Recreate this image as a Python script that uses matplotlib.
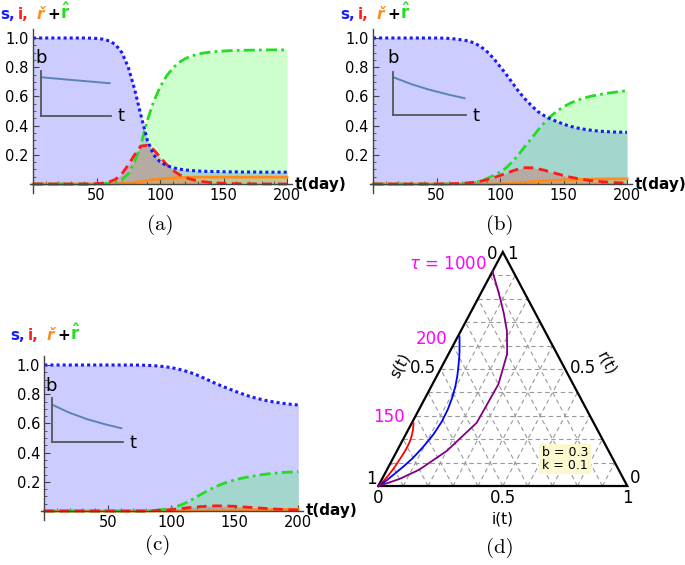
import matplotlib
matplotlib.use("Agg")
import matplotlib.pyplot as plt
import numpy as np
from matplotlib.ticker import FixedLocator

W, H = 685, 565

# --- data (t in days, step 5) ---
t_days = list(range(0, 205, 5))

# panel (a)
s_a = [1, 1, 1, 1, 1, 1, 1, 1, 1, .999, .997, .992, .98, .955, .9, .8, .65, .47, .3, .2,
       .152, .127, .112, .102, .096, .092, .089, .087, .086, .085, .084, .083, .083, .082,
       .082, .082, .081, .081, .081, .081, .081]
i_a = [0, 0, 0, 0, 0, 0, 0, 0, 0, .001, .0025, .006, .014, .032, .07, .13, .2, .26, .265,
       .235, .185, .135, .095, .065, .045, .031, .021, .015, .01, .007, .005, .0035, .0025,
       .0018, .0013, .001, .0007, .0005, .0004, .0003, .0002]
rc_a = [0, 0, 0, 0, 0, 0, 0, 0, 0, 0, 0, 0, 0, .001, .003, .006, .011, .017, .024, .03,
        .035, .039, .042, .044, .045, .046, .047, .047, .047, .047, .047, .047, .047, .047,
        .047, .047, .047, .047, .047, .047, .047]
g_a = [0, 0, 0, 0, 0, 0, 0, 0, 0, 0, .0005, .002, .006, .013, .03, .07, .15, .27, .435,
       .565, .663, .738, .793, .833, .859, .877, .89, .898, .904, .908, .911, .9135, .9145,
       .916, .9167, .917, .918, .9185, .9186, .9187, .9188]

# panel (b)
s_b = [1, 1, 1, 1, 1, 1, 1, 1, 1, 1, 1, .999, .997, .993, .987, .98, .965, .94, .905, .86,
       .805, .75, .69, .63, .58, .535, .495, .467, .445, .427, .41, .396, .385, .377, .37,
       .365, .361, .358, .356, .355, .354]
i_b = [0, 0, 0, 0, 0, 0, 0, 0, 0, 0, 0, .001, .002, .003, .005, .008, .013, .02, .03, .043,
       .058, .074, .09, .104, .112, .111, .104, .094, .082, .07, .058, .048, .039, .031,
       .025, .02, .016, .013, .01, .008, .006]
rc_b = [0, 0, 0, 0, 0, 0, 0, 0, 0, 0, 0, 0, 0, 0, 0, 0, 0, 0, 0, 0, .002, .004, .006,
        .009, .012, .015, .018, .021, .024, .026, .028, .03, .031, .032, .033, .034, .034,
        .035, .035, .035, .036]
g_b = [0, 0, 0, 0, 0, 0, 0, 0, 0, 0, 0, 0, 0, 0, .003, .006, .012, .022, .038, .058, .082,
       .112, .155, .205, .262, .315, .37, .42, .465, .5, .528, .552, .571, .586, .598, .607,
       .615, .622, .628, .634, .639]

# panel (c)
s_c = [1, 1, 1, 1, 1, 1, 1, 1, 1, 1, 1, 1, 1, 1, 1, .999, .998, .996, .993, .988, .982,
       .973, .962, .948, .932, .913, .893, .873, .855, .838, .821, .805, .79, .777, .766,
       .756, .748, .741, .735, .73, .726]
i_c = [0, 0, 0, 0, 0, 0, 0, 0, 0, 0, 0, 0, 0, 0, 0, 0, 0, .002, .004, .007, .01, .014,
       .019, .024, .028, .031, .034, .035, .035, .034, .032, .029, .026, .023, .02, .017,
       .014, .012, .01, .008, .007]
rc_c = [0, 0, 0, 0, 0, 0, 0, 0, 0, 0, 0, 0, 0, 0, 0, 0, 0, 0, 0, 0, 0, 0, 0, .001, .002,
        .0025, .003, .004, .005, .0055, .006, .007, .008, .0085, .009, .0095, .01, .0105,
        .011, .0115, .012]
g_c = [0, 0, 0, 0, 0, 0, 0, 0, 0, 0, 0, 0, 0, 0, 0, 0, 0, .003, .007, .012, .02, .033,
       .05, .072, .097, .122, .146, .167, .185, .2, .213, .224, .232, .24, .247, .253,
       .258, .262, .265, .267, .269]

# insets b(t), sampled at equal fractions of the inset width
inset_u = [0, 0.25, 0.5, 0.75, 0.98]
b_a = [0.86, 0.825, 0.79, 0.757, 0.725]
b_b = [0.87, 0.71, 0.58, 0.473, 0.385]
b_c = [0.86, 0.672, 0.525, 0.41, 0.32]

tau_labels = ['150', '200', r'$\tau$ = 1000']

C_S, C_I, C_RC, C_G = '#1a1aff', '#ff1a1a', '#ff8c1a', '#22dd22'

fig = plt.figure(figsize=(W / 100, H / 100), dpi=100)


def fx(x):
    return x / W


def fy(y):
    return 1 - y / H


def title_row(x0, yb):
    # "s, i, ř + r̂" built from pieces so each keeps its own colour
    fs = 11
    kw = dict(fontsize=fs, fontweight='bold', va='baseline')
    fig.text(fx(x0), fy(yb), 's,', color=C_S, **kw)
    fig.text(fx(x0 + 18), fy(yb), 'i,', color=C_I, **kw)
    fig.text(fx(x0 + 37), fy(yb), '\u0159', color=C_RC, fontstyle='italic', **kw)
    fig.text(fx(x0 + 47), fy(yb), '+', color='k', **kw)
    fig.text(fx(x0 + 60), fy(yb), r'$\mathbf{\hat{r}}$', color=C_G, fontsize=fs + 1,
             va='baseline')


def time_panel(x0, y0, s, i, rc, g, rx=1.27, ry=146):
    tmin, tmax = -2.5, 204
    vmin, vmax = -0.06, 1.06
    left, right = x0 + tmin * rx, x0 + tmax * rx
    top, bot = y0 - vmax * ry, y0 - vmin * ry
    ax = fig.add_axes([fx(left), fy(bot), (right - left) / W, (bot - top) / H])
    ax.set_xlim(tmin, tmax)
    ax.set_ylim(vmin, vmax)
    ax.patch.set_alpha(0)

    ax.fill_between(t_days, 0, s, color='blue', alpha=0.2, lw=0)
    ax.fill_between(t_days, 0, g, color=(0, 1, 0), alpha=0.2, lw=0)
    ax.fill_between(t_days, 0, i, color='red', alpha=0.2, lw=0)
    ax.fill_between(t_days, 0, rc, color='orange', alpha=0.25, lw=0)

    ax.plot(t_days, rc, color=C_RC, lw=2)
    ax.plot(t_days, g, color=C_G, lw=2, ls=(0, (4, 1.5, 1, 1.5)))
    ax.plot(t_days, i, color=C_I, lw=2, ls=(0, (3.5, 2)))
    ax.plot(t_days, s, color=C_S, lw=2.2, ls=(0, (1, 1)))

    for sp in ['top', 'right']:
        ax.spines[sp].set_visible(False)
    for sp in ['left', 'bottom']:
        ax.spines[sp].set_position(('data', 0))
        ax.spines[sp].set_color('#444444')
        ax.spines[sp].set_linewidth(1)
    ax.set_xticks([50, 100, 150, 200])
    ax.set_xticklabels(['50', '100', '150', '200'])
    ax.set_yticks([0.2, 0.4, 0.6, 0.8, 1.0])
    ax.set_yticklabels(['0.2', '0.4', '0.6', '0.8', '1.0'])
    ax.xaxis.set_minor_locator(FixedLocator([v for v in range(10, 201, 10) if v % 50]))
    ax.yaxis.set_minor_locator(FixedLocator([v / 100 for v in range(5, 101, 5) if v % 20]))
    ax.tick_params(which='major', direction='in', length=4, width=0.8, color='#444444',
                   labelsize=10.5, pad=3)
    ax.tick_params(which='minor', direction='in', length=2, width=0.6, color='#444444')
    ax.text(206, 0, 't(day)', fontsize=11, fontweight='bold', ha='left', va='center')
    return ax


def inset(xl, xr, yt, yb, vals, bpos, tpos):
    iax = fig.add_axes([fx(xl), fy(yb), (xr - xl) / W, (yb - yt) / H])
    iax.set_xlim(0, 1)
    iax.set_ylim(0, 1)
    iax.patch.set_alpha(0)
    iax.plot(inset_u, vals, color='#5b84b4', lw=1.4)
    for sp in ['top', 'right']:
        iax.spines[sp].set_visible(False)
    for sp in ['left', 'bottom']:
        iax.spines[sp].set_color('#555555')
        iax.spines[sp].set_linewidth(1.3)
    iax.set_xticks([])
    iax.set_yticks([])
    fig.text(fx(bpos[0]), fy(bpos[1]), 'b', fontsize=13, ha='center', va='center')
    fig.text(fx(tpos[0]), fy(tpos[1]), 't', fontsize=13, ha='center', va='center')


# (a)
time_panel(33, 184, s_a, i_a, rc_a, g_a)
inset(41, 111, 71, 115.5, b_a, (41.5, 58), (121.5, 116))
title_row(0, 19)

# (b)
time_panel(373, 184, s_b, i_b, rc_b, g_b)
inset(393, 466, 71.5, 115, b_b, (393.5, 58), (476, 116))
title_row(340, 19)

# (c)
time_panel(44.3, 511, s_c, i_c, rc_c, g_c)
inset(51.7, 122.7, 398.3, 442.3, b_c, (51.5, 386), (132.5, 443.5))
title_row(10, 340)

# (d) ternary plot
tx0, tx1, ty0, ty1 = 378.3, 627.3, 486, 252
tax = fig.add_axes([fx(tx0), fy(ty0), (tx1 - tx0) / W, (ty0 - ty1) / H])
tax.set_xlim(0, 1)
tax.set_ylim(0, 1)
tax.axis('off')

grid_kw = dict(color='#9a9a9a', lw=0.8, ls=(0, (4, 3)))
for k in range(1, 10):
    f = k / 10
    tax.plot([f / 2, 1 - f / 2], [f, f], **grid_kw)
    tax.plot([f, f + (1 - f) / 2], [0, 1 - f], **grid_kw)
    tax.plot([1 - f, (1 - f) / 2], [0, 1 - f], **grid_kw)

tax.plot([0, 1, 0.5, 0], [0, 0, 1, 0], color='k', lw=1.6, clip_on=False,
         solid_joinstyle='miter')


def tern(s, i, g):
    s, i, g = np.asarray(s), np.asarray(i), np.asarray(g)
    tot = s + i + g
    return (i + g / 2) / tot, g / tot


for (s, i, g), col in [((s_c, i_c, g_c), '#ff0000'), ((s_b, i_b, g_b), '#0000ff'),
                       ((s_a, i_a, g_a), '#800080')]:
    X, Y = tern(s, i, g)
    tax.plot(X, Y, color=col, lw=1.3, clip_on=False)

MAG = '#ff00ff'
tax.text(0.107, 0.296, tau_labels[0], color=MAG, fontsize=12, ha='right', va='center')
tax.text(0.277, 0.627, tau_labels[1], color=MAG, fontsize=12, ha='right', va='center')
tax.text(0.437, 0.947, tau_labels[2], color=MAG, fontsize=12, ha='right', va='center')

tfs = 12
tax.text(0.459, 0.99, '0', fontsize=tfs, ha='center', va='center')
tax.text(0.54, 0.99, '1', fontsize=tfs, ha='center', va='center')
tax.text(-0.027, 0.03, '1', fontsize=tfs, ha='center', va='center')
tax.text(1.03, 0.034, '0', fontsize=tfs, ha='center', va='center')
tax.text(0.181, 0.503, '0.5', fontsize=tfs, ha='center', va='center')
tax.text(0.823, 0.503, '0.5', fontsize=tfs, ha='center', va='center')
tax.text(0.087, 0.517, 's(t)', fontsize=11, ha='center', va='center', rotation=62)
tax.text(0.917, 0.524, 'r(t)', fontsize=11, ha='center', va='center', rotation=-62)
tax.text(0, -0.053, '0', fontsize=tfs, ha='center', va='center')
tax.text(0.502, -0.053, '0.5', fontsize=tfs, ha='center', va='center')
tax.text(1, -0.053, '1', fontsize=tfs, ha='center', va='center')
tax.text(0.5, -0.142, 'i(t)', fontsize=11, ha='center', va='center')
tax.text(0.75, 0.115, 'b = 0.3\nk = 0.1', fontsize=9, ha='center', va='center',
         linespacing=0.95,
         bbox=dict(facecolor='#fbf7cf', edgecolor='none', boxstyle='square,pad=0.2'))

# captions
for lab, (x, y) in [('(a)', (160, 225)), ('(b)', (500, 225)),
                    ('(c)', (158, 545)), ('(d)', (500, 548))]:
    fig.text(fx(x), fy(y), lab, fontsize=15, family='cmr10', ha='center', va='center')

fig.savefig('out.png', dpi=100)
